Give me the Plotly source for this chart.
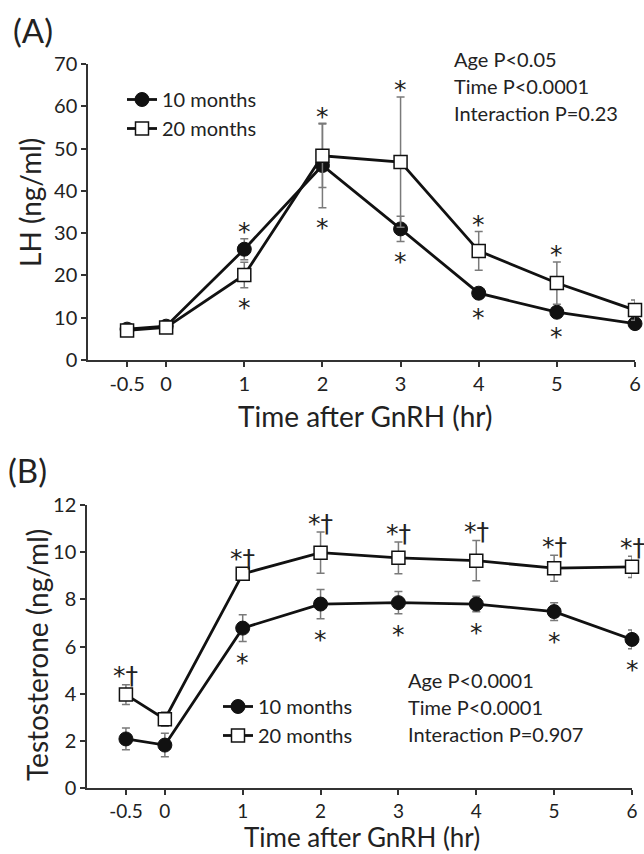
import plotly.graph_objects as go

W, H = 644, 854
FONT = "Lato"
MARK_FONT = "DejaVu Sans"
TXT = "#222222"

# ---------------- data ----------------
times = [-0.5, 0, 1, 2, 3, 4, 5, 6]
tick_vals = [-0.5, 0, 1, 2, 3, 4, 5, 6]
tick_text = ["-0.5", "0", "1", "2", "3", "4", "5", "6"]

series_names = ["10 months", "20 months"]

# Panel A: LH (ng/ml), mean and SE
lh_10 = [7.3, 8.0, 26.2, 46.0, 31.0, 15.8, 11.3, 8.6]
lh_10_se = [0.6, 0.6, 2.5, 10.0, 3.0, 1.0, 1.0, 0.8]
lh_20 = [7.0, 7.7, 20.1, 48.3, 46.8, 25.8, 18.2, 11.8]
lh_20_se = [0.7, 0.7, 3.0, 7.5, 15.4, 4.6, 5.0, 2.4]
lh_mark_up = ["", "", "*", "*", "*", "*", "*", ""]
lh_mark_down = ["", "", "*", "*", "*", "*", "*", ""]

# Panel B: Testosterone (ng/ml), mean and SE
t_10 = [2.08, 1.82, 6.78, 7.80, 7.86, 7.80, 7.48, 6.30]
t_10_se = [0.46, 0.50, 0.57, 0.62, 0.47, 0.33, 0.38, 0.40]
t_20 = [3.96, 2.92, 9.08, 9.98, 9.76, 9.64, 9.32, 9.38]
t_20_se = [0.42, 0.30, 0.25, 0.87, 0.67, 0.85, 0.55, 0.45]
t_mark_up = ["*†", "", "*†", "*†", "*†", "*†", "*†", "*†"]
t_mark_down = ["", "", "*", "*", "*", "*", "*", "*"]

stats_a = ["Age P<0.05", "Time P<0.0001", "Interaction P=0.23"]
stats_b = ["Age P<0.0001", "Time P<0.0001", "Interaction P=0.907"]


def px(x):
    return x / W


def py(y):
    return 1 - y / H


fig = go.Figure()

marker_10 = dict(symbol="circle", size=14, color="#111111", line=dict(color="#111111", width=1))
marker_20 = dict(symbol="square", size=13, color="white", line=dict(color="#111111", width=1.5))
line_style = dict(color="#111111", width=2.8)


def err(se):
    return dict(type="data", array=se, visible=True, color="#7a7a7a", thickness=1.5, width=4)


fig.add_trace(go.Scatter(x=times, y=lh_10, mode="lines+markers", name=series_names[0],
                         marker=marker_10, line=line_style, error_y=err(lh_10_se),
                         xaxis="x", yaxis="y", legend="legend", cliponaxis=False))
fig.add_trace(go.Scatter(x=times, y=lh_20, mode="lines+markers", name=series_names[1],
                         marker=marker_20, line=line_style, error_y=err(lh_20_se),
                         xaxis="x", yaxis="y", legend="legend", cliponaxis=False))
fig.add_trace(go.Scatter(x=times, y=t_10, mode="lines+markers", name=series_names[0],
                         marker=marker_10, line=line_style, error_y=err(t_10_se),
                         xaxis="x2", yaxis="y2", legend="legend2", cliponaxis=False))
fig.add_trace(go.Scatter(x=times, y=t_20, mode="lines+markers", name=series_names[1],
                         marker=marker_20, line=line_style, error_y=err(t_20_se),
                         xaxis="x2", yaxis="y2", legend="legend2", cliponaxis=False))

annotations = []


def add_marks(xref, yref, ups, downs, up_vals, down_vals, up_shift, down_shift):
    for t, m, v in zip(times, ups, up_vals):
        if m:
            annotations.append(dict(x=t, y=v, xref=xref, yref=yref, text=m, showarrow=False,
                                    xanchor="center", yanchor="middle", yshift=up_shift,
                                    font=dict(family=MARK_FONT, size=25, color=TXT)))
    for t, m, v in zip(times, downs, down_vals):
        if m:
            annotations.append(dict(x=t, y=v, xref=xref, yref=yref, text=m, showarrow=False,
                                    xanchor="center", yanchor="middle", yshift=down_shift,
                                    font=dict(family=MARK_FONT, size=25, color=TXT)))


lh_top = [max(a + sa, b + sb) for a, sa, b, sb in zip(lh_10, lh_10_se, lh_20, lh_20_se)]
lh_bot = [min(a - sa, b - sb) for a, sa, b, sb in zip(lh_10, lh_10_se, lh_20, lh_20_se)]
add_marks("x", "y", lh_mark_up, lh_mark_down, lh_top, lh_bot, 7, -20)

t_top = [b + sb for b, sb in zip(t_20, t_20_se)]
t_bot = [a - sa for a, sa in zip(t_10, t_10_se)]
add_marks("x2", "y2", t_mark_up, t_mark_down, t_top, t_bot, 9, -21)

for i, s in enumerate(stats_a):
    annotations.append(dict(x=px(452), y=py(59 + 27 * i), xref="paper", yref="paper", text=s,
                            showarrow=False, xanchor="left", yanchor="middle",
                            font=dict(family=FONT, size=20, color=TXT)))
for i, s in enumerate(stats_b):
    annotations.append(dict(x=px(406), y=py(680 + 27 * i), xref="paper", yref="paper", text=s,
                            showarrow=False, xanchor="left", yanchor="middle",
                            font=dict(family=FONT, size=20, color=TXT)))

annotations.append(dict(x=px(11), y=py(30), xref="paper", yref="paper", text="(A)", showarrow=False,
                        xanchor="left", yanchor="middle", font=dict(family=FONT, size=33, color=TXT)))
annotations.append(dict(x=px(6), y=py(470), xref="paper", yref="paper", text="(B)", showarrow=False,
                        xanchor="left", yanchor="middle", font=dict(family=FONT, size=33, color=TXT)))

annotations.append(dict(x=px(365), y=py(416), xref="paper", yref="paper", text="Time after GnRH (hr)",
                        showarrow=False, xanchor="center", yanchor="middle", borderpad=0,
                        font=dict(family=FONT, size=28, color=TXT)))
annotations.append(dict(x=px(362), y=py(854), xref="paper", yref="paper", text="Time after GnRH (hr)",
                        showarrow=False, xanchor="center", yanchor="bottom", borderpad=0,
                        font=dict(family=FONT, size=26, color=TXT)))
annotations.append(dict(x=px(30), y=py(203), xref="paper", yref="paper", text="LH (ng/ml)",
                        showarrow=False, xanchor="center", yanchor="middle", textangle=-90,
                        borderpad=0, font=dict(family=FONT, size=28, color=TXT)))
annotations.append(dict(x=px(37), y=py(655), xref="paper", yref="paper", text="Testosterone (ng/ml)",
                        showarrow=False, xanchor="center", yanchor="middle", textangle=-90,
                        borderpad=0, font=dict(family=FONT, size=28, color=TXT)))

axis_common = dict(showline=True, linecolor="#333333", linewidth=1.5, ticks="outside", ticklen=5,
                   tickwidth=1.5, tickcolor="#333333", showgrid=False, zeroline=False,
                   automargin=False)
tick_font = dict(family=FONT, size=20, color=TXT)
tick_font_b = dict(family=FONT, size=19, color=TXT)

fig.update_layout(
    width=W, height=H, margin=dict(l=0, r=0, t=0, b=0, pad=0),
    paper_bgcolor="white", plot_bgcolor="white",
    font=dict(family=FONT, color=TXT),
    xaxis=dict(domain=[px(88), px(635)], range=[-1, 6], tickvals=tick_vals, ticktext=tick_text,
               anchor="y", tickfont=tick_font, **axis_common),
    yaxis=dict(domain=[py(360), py(64)], range=[0, 70], dtick=10, anchor="x",
               tickfont=tick_font, **axis_common),
    xaxis2=dict(domain=[px(87), px(632)], range=[-1, 6], tickvals=tick_vals, ticktext=tick_text,
                anchor="y2", tickfont=tick_font_b, **axis_common),
    yaxis2=dict(domain=[py(788), py(505)], range=[0, 12], dtick=2, anchor="x2",
                tickfont=tick_font, **axis_common),
    legend=dict(x=px(122), y=py(80), xanchor="left", yanchor="top", bgcolor="rgba(0,0,0,0)",
                font=dict(family=FONT, size=20, color=TXT), itemwidth=30),
    legend2=dict(x=px(218), y=py(687), xanchor="left", yanchor="top", bgcolor="rgba(0,0,0,0)",
                 font=dict(family=FONT, size=20, color=TXT), itemwidth=30),
    annotations=annotations,
    showlegend=True,
)

fig.write_html(
    "out.html",
    config={"displayModeBar": False},
    post_script=(
        "document.documentElement.style.margin='0';document.body.style.margin='0';"
        "var gd=document.getElementById('{plot_id}');"
        "gd.style.position='absolute';gd.style.left='0px';gd.style.top='0px';"
    ),
)
